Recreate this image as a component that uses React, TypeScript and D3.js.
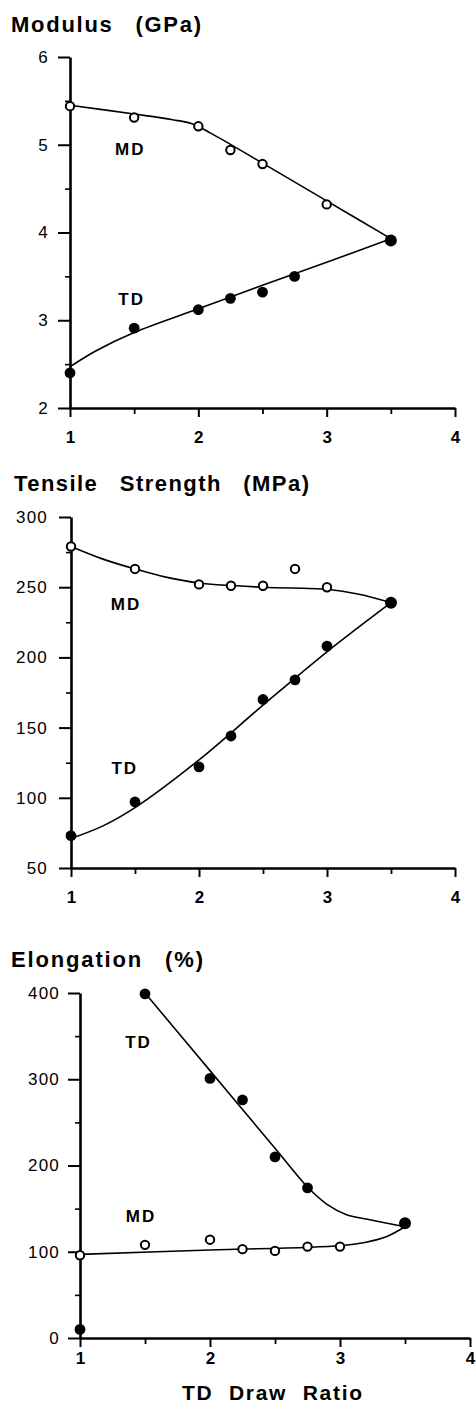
import { useEffect, useRef } from 'react'
import * as d3 from 'd3'

// TD draw ratio positions for each series
const modulusMdX = [1, 1.5, 2, 2.25, 2.5, 3]
const modulusMd = [5.44, 5.31, 5.21, 4.94, 4.78, 4.32]
const modulusTdX = [1, 1.5, 2, 2.25, 2.5, 2.75, 3.5]
const modulusTd = [2.4, 2.91, 3.12, 3.25, 3.32, 3.5, 3.91]
const modulusMdFit = [[1, 5.45], [1.5, 5.35], [1.8, 5.285], [1.95, 5.24], [2.1, 5.13], [2.5, 4.79], [3, 4.36], [3.5, 3.93]]
const modulusTdFit = [[1, 2.47], [1.2, 2.65], [1.5, 2.86], [2, 3.13], [2.5, 3.4], [3, 3.66], [3.5, 3.93]]

const tensileMdX = [1, 1.5, 2, 2.25, 2.5, 2.75, 3]
const tensileMd = [279, 263, 252, 251, 251, 263, 250]
const tensileTdX = [1, 1.5, 2, 2.25, 2.5, 2.75, 3, 3.5]
const tensileTd = [73, 97, 122, 144, 170, 184, 208, 239]
const tensileMdFit = [[1, 279], [1.25, 270], [1.5, 263], [1.75, 257], [2, 253], [2.5, 250], [3, 248.5], [3.25, 245], [3.5, 239]]
const tensileTdFit = [[1, 71], [1.25, 80], [1.5, 93], [2, 127], [2.5, 166], [3, 204], [3.5, 239]]

const elongMdX = [1, 1.5, 2, 2.25, 2.5, 2.75, 3]
const elongMd = [96, 108, 114, 103, 101, 106, 106]
const elongTdX = [1, 1.5, 2, 2.25, 2.5, 2.75, 3.5]
const elongTd = [10, 399, 301, 276, 210, 174, 133]
const elongMdFit = [[1, 97], [2, 102], [3, 107], [3.2, 111], [3.35, 117], [3.5, 129]]
const elongTdFit = [[1.5, 400], [2, 310], [2.5, 220], [2.75, 175], [2.9, 155], [3.05, 143], [3.2, 138], [3.5, 129]]

const xTicks = [1, 2, 3, 4]
const xMinorTicks = [1.5, 2.5, 3.5]
const modulusTicks = [2, 3, 4, 5, 6]
const tensileTicks = [50, 100, 150, 200, 250, 300]
const elongTicks = [0, 100, 200, 300, 400]

const FONT = '"Liberation Sans", Arial, Helvetica, sans-serif'

const panels = [
  {
    title: 'Modulus (GPa)', titleX: 11, titleY: 32, titleLen: 190,
    xRange: [70, 455], yRange: [408, 57], yDomain: [2, 6],
    yTicks: modulusTicks, yMinor: d3.range(2.5, 6, 1), xPad: 14, yPad: 9,
    md: modulusMdX.map((d, i) => [d, modulusMd[i]]),
    td: modulusTdX.map((d, i) => [d, modulusTd[i]]),
    mdFit: modulusMdFit, tdFit: modulusTdFit,
    mdLabel: [1.47, 4.88], tdLabel: [1.48, 3.17],
  },
  {
    title: 'Tensile Strength (MPa)', titleX: 14, titleY: 491, titleLen: 295,
    xRange: [71, 455], yRange: [868, 517], yDomain: [50, 300],
    yTicks: tensileTicks, yMinor: d3.range(75, 300, 50), xPad: 14, yPad: 11,
    md: tensileMdX.map((d, i) => [d, tensileMd[i]]),
    td: tensileTdX.map((d, i) => [d, tensileTd[i]]),
    mdFit: tensileMdFit, tdFit: tensileTdFit,
    mdLabel: [1.43, 234], tdLabel: [1.42, 116.6],
  },
  {
    title: 'Elongation (%)', titleX: 11, titleY: 967, titleLen: 192,
    xRange: [80, 470], yRange: [1338, 993], yDomain: [0, 400],
    yTicks: elongTicks, yMinor: d3.range(50, 400, 100), xPad: 5, yPad: 8,
    md: elongMdX.map((d, i) => [d, elongMd[i]]),
    td: elongTdX.map((d, i) => [d, elongTd[i]]),
    mdFit: elongMdFit, tdFit: elongTdFit,
    mdLabel: [1.47, 134.5], tdLabel: [1.45, 336],
  },
]

const App = () => {
  const svgRef = useRef(null)

  useEffect(() => {
    const svg = d3.select(svgRef.current)
    svg.selectAll('*').remove()

    panels.forEach((p) => {
      const x = d3.scaleLinear().domain([1, 4]).range(p.xRange)
      const y = d3.scaleLinear().domain(p.yDomain).range(p.yRange)
      const g = svg.append('g')

      g.append('text')
        .attr('x', p.titleX)
        .attr('y', p.titleY)
        .attr('textLength', p.titleLen)
        .attr('lengthAdjust', 'spacing')
        .style('font-family', FONT)
        .style('font-size', '22px')
        .style('font-weight', 'bold')
        .style('word-spacing', '14px')
        .text(p.title)

      // y axis
      const yAxis = g.append('g')
        .attr('transform', `translate(${p.xRange[0]},0)`)
        .call(d3.axisLeft(y).tickValues(p.yTicks).tickSize(12).tickSizeOuter(0).tickPadding(p.yPad).tickFormat(d3.format('d')))
      yAxis.select('.domain').attr('stroke-width', 2.6)
      yAxis.selectAll('.tick line').attr('stroke-width', 2)
      yAxis.selectAll('.tick text')
        .attr('font-family', FONT)
        .attr('font-size', 17)
        .attr('letter-spacing', 1.2)
        .attr('fill', '#000')
      g.append('g')
        .attr('transform', `translate(${p.xRange[0]},0)`)
        .call(d3.axisLeft(y).tickValues(p.yMinor).tickSize(5).tickSizeOuter(0).tickFormat(() => ''))
        .call((a) => a.select('.domain').remove())
        .selectAll('.tick line').attr('stroke-width', 1.6)

      // x axis
      const xAxis = g.append('g')
        .attr('transform', `translate(0,${p.yRange[0]})`)
        .call(d3.axisBottom(x).tickValues(xTicks).tickSize(9).tickSizeOuter(0).tickPadding(p.xPad).tickFormat(d3.format('d')))
      xAxis.select('.domain').attr('stroke-width', 2.6)
      xAxis.selectAll('.tick line').attr('stroke-width', 2)
      xAxis.selectAll('.tick text')
        .attr('font-family', FONT)
        .attr('font-size', 17)
        .attr('font-weight', 'bold')
        .attr('fill', '#000')
      g.append('g')
        .attr('transform', `translate(0,${p.yRange[0]})`)
        .call(d3.axisBottom(x).tickValues(xMinorTicks).tickSize(6).tickSizeOuter(0).tickFormat(() => ''))
        .call((a) => a.select('.domain').remove())
        .selectAll('.tick line').attr('stroke-width', 1.8)

      const line = d3.line()
        .x((d) => x(d[0]))
        .y((d) => y(d[1]))
        .curve(d3.curveCatmullRom.alpha(0.5))

      g.selectAll('path.fit')
        .data([p.mdFit, p.tdFit])
        .join('path')
        .attr('class', 'fit')
        .attr('d', line)
        .attr('fill', 'none')
        .attr('stroke', '#000')
        .attr('stroke-width', 1.6)

      g.selectAll('circle.md')
        .data(p.md)
        .join('circle')
        .attr('class', 'md')
        .attr('cx', (d) => x(d[0]))
        .attr('cy', (d) => y(d[1]))
        .attr('r', 4.2)
        .attr('fill', '#fff')
        .attr('stroke', '#000')
        .attr('stroke-width', 2)

      g.selectAll('circle.td')
        .data(p.td)
        .join('circle')
        .attr('class', 'td')
        .attr('cx', (d) => x(d[0]))
        .attr('cy', (d) => y(d[1]))
        .attr('r', (d) => (d[0] === 3.5 ? 6 : 5.4))
        .attr('fill', '#000')

      g.selectAll('text.lbl')
        .data([['MD', p.mdLabel], ['TD', p.tdLabel]])
        .join('text')
        .attr('class', 'lbl')
        .attr('x', (d) => x(d[1][0]))
        .attr('y', (d) => y(d[1][1]))
        .attr('text-anchor', 'middle')
        .style('font-family', FONT)
        .style('font-size', '17px')
        .style('font-weight', 'bold')
        .style('letter-spacing', '2px')
        .text((d) => d[0])
    })

    svg.append('text')
      .attr('x', 272)
      .attr('y', 1400)
      .attr('text-anchor', 'middle')
      .attr('textLength', 180)
      .attr('lengthAdjust', 'spacing')
      .style('font-family', FONT)
      .style('font-size', '21px')
      .style('font-weight', 'bold')
      .style('word-spacing', '8px')
      .text('TD Draw Ratio')
  }, [])

  return (
    <svg
      ref={svgRef}
      width={476}
      height={1414}
      style={{ position: 'absolute', left: 0, top: 0, background: '#fff', display: 'block' }}
    ></svg>
  )
}

export default App
